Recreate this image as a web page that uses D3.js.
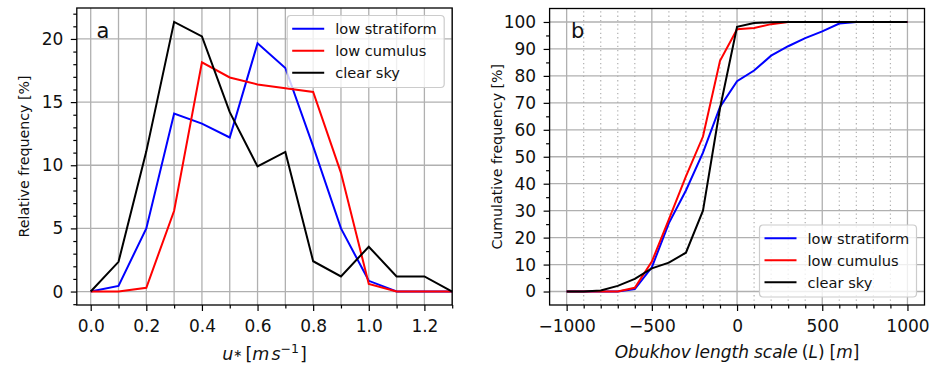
<!DOCTYPE html>
<html>
<head>
<meta charset="utf-8">
<script src="https://cdn.jsdelivr.net/npm/d3@7"></script>
<style>
  html, body { margin: 0; padding: 0; background: #fff; }
  svg { display: block; font-family: "DejaVu Sans", sans-serif; }
</style>
</head>
<body>
<svg id="fig" width="941" height="366"></svg>
<script>
// ---- Panel a: friction velocity distributions (% of cases per 0.1 m/s bin) ----
const ustarBins       = [0.0, 0.1, 0.2, 0.3, 0.4, 0.5, 0.6, 0.7, 0.8, 0.9, 1.0, 1.1, 1.2, 1.3];
const ustarStratiform = [0, 0.45, 5.0, 14.1, 13.3, 12.2, 19.65, 17.7, 11.5, 5.0, 0.85, 0, 0, 0];
const ustarCumulus    = [0, 0, 0.3, 6.4, 18.15, 16.95, 16.4, 16.1, 15.8, 9.4, 0.6, 0, 0, 0];
const ustarClear      = [0, 2.35, 11.1, 21.35, 20.2, 14.2, 9.9, 11.05, 2.4, 1.2, 3.55, 1.2, 1.2, 0];

// ---- Panel b: cumulative distributions of the Obukhov length (m) ----
const obukhovBins   = [-1000, -900, -800, -700, -600, -500, -400, -300, -200, -100, 0,
                       100, 200, 300, 400, 500, 600, 700, 800, 900, 1000];
const cdfStratiform = [0, 0, 0, 0, 0.9, 9.0, 25.4, 37.5, 51.5, 68.5, 78.0,
                       82.0, 87.5, 91.0, 94.0, 96.5, 99.4, 100, 100, 100, 100];
const cdfCumulus    = [0, 0, 0, 0, 1.4, 11.1, 26.8, 42.7, 57.5, 85.6, 97.3,
                       97.8, 99.2, 100, 100, 100, 100, 100, 100, 100, 100];
const cdfClear      = [0, 0, 0.4, 2.1, 4.7, 8.6, 10.7, 14.4, 30.0, 68.0, 98.2,
                       99.6, 99.9, 100, 100, 100, 100, 100, 100, 100, 100];

// ---- Shared series and tick definitions ----
const seriesNames  = ["low stratiform", "low cumulus", "clear sky"];
const seriesColors = ["#0000ff", "#ff0000", "#000000"];

const ustarTicks      = [0.0, 0.2, 0.4, 0.6, 0.8, 1.0, 1.2];
const ustarMinorTicks = [0.1, 0.3, 0.5, 0.7, 0.9, 1.1, 1.3];
const freqTicks       = [0, 5, 10, 15, 20];
const freqMinorTicks  = [-1, 1, 2, 3, 4, 6, 7, 8, 9, 11, 12, 13, 14, 16, 17, 18, 19, 21, 22];

const obukhovTicks      = [-1000, -500, 0, 500, 1000];
const obukhovMinorTicks = [-900, -800, -700, -600, -400, -300, -200, -100,
                           100, 200, 300, 400, 600, 700, 800, 900];
const cumTicks      = [0, 10, 20, 30, 40, 50, 60, 70, 80, 90, 100];
const cumMinorTicks = [5, 15, 25, 35, 45, 55, 65, 75, 85, 95];

const svg = d3.select("#fig");
const GRID = "#b0b0b0";
const TICK_FONT = 17;

function drawPanel(cfg) {
  const g = svg.append("g");
  const { x, y } = cfg;
  const [xl, xr] = x.range();
  const [yb, yt] = y.range();

  // grid lines
  const grid = g.append("g");
  grid.selectAll(".gx").data(cfg.xGrid).join("line")
    .attr("x1", d => x(d)).attr("x2", d => x(d)).attr("y1", yb).attr("y2", yt)
    .attr("stroke", GRID).attr("stroke-width", 1.3);
  if (cfg.xGridDotted) {
    grid.selectAll(".gxd").data(cfg.xGridDotted).join("line")
      .attr("x1", d => x(d)).attr("x2", d => x(d)).attr("y1", yb).attr("y2", yt)
      .attr("stroke", GRID).attr("stroke-width", 1.2).attr("stroke-dasharray", "1.3,3");
  }
  grid.selectAll(".gy").data(cfg.yGrid).join("line")
    .attr("x1", xl).attr("x2", xr).attr("y1", d => y(d)).attr("y2", d => y(d))
    .attr("stroke", GRID).attr("stroke-width", 1.3);

  // data lines
  const line = d3.line().x(d => x(d[0])).y(d => y(d[1]));
  cfg.series.forEach((vals, i) => {
    g.append("path")
      .datum(cfg.xs.map((v, j) => [v, vals[j]]))
      .attr("d", line)
      .attr("fill", "none")
      .attr("stroke", seriesColors[i])
      .attr("stroke-width", 2)
      .attr("stroke-linejoin", "miter");
  });

  // axes (outward ticks, major + minor)
  const xAxis = g.append("g").attr("transform", `translate(0,${yb})`)
    .call(d3.axisBottom(x).tickValues(cfg.xTicks).tickFormat(cfg.xFormat)
      .tickSize(6).tickPadding(8.5));
  const xMinor = g.append("g").attr("transform", `translate(0,${yb})`)
    .call(d3.axisBottom(x).tickValues(cfg.xMinor).tickFormat("").tickSize(3.5));
  const yAxis = g.append("g").attr("transform", `translate(${xl},0)`)
    .call(d3.axisLeft(y).tickValues(cfg.yTicks).tickFormat(d3.format("d"))
      .tickSize(6).tickPadding(7.5));
  const yMinor = g.append("g").attr("transform", `translate(${xl},0)`)
    .call(d3.axisLeft(y).tickValues(cfg.yMinor).tickFormat("").tickSize(3.5));
  [xAxis, xMinor, yAxis, yMinor].forEach(a => {
    a.select(".domain").remove();
    a.selectAll(".tick line").attr("stroke", "#000").attr("stroke-width", 1.2);
    a.selectAll(".tick text")
      .attr("font-family", "DejaVu Sans, sans-serif")
      .attr("font-size", TICK_FONT).attr("fill", "#111");
  });

  // frame
  g.append("rect")
    .attr("x", xl).attr("y", yt).attr("width", xr - xl).attr("height", yb - yt)
    .attr("fill", "none").attr("stroke", "#000").attr("stroke-width", 1.3);

  // panel letter
  g.append("text").attr("x", cfg.letterX).attr("y", 38)
    .attr("font-size", 21).attr("fill", "#111").text(cfg.letter);

  // legend
  const lw = 157, lh = 72;
  const lx = cfg.legendRight ? xr - 8 - lw : xl + 8;
  const ly = cfg.legendTop ? yt + 7.5 : yb - 8 - lh;
  const leg = g.append("g").attr("transform", `translate(${lx},${ly})`);
  leg.append("rect").attr("width", lw).attr("height", lh).attr("rx", 3.5)
    .attr("fill", "#fff").attr("fill-opacity", 0.8)
    .attr("stroke", "#cccccc").attr("stroke-width", 1.2);
  seriesNames.forEach((name, i) => {
    const cy = 13.3 + i * 22;
    leg.append("line").attr("x1", 5).attr("x2", 37).attr("y1", cy).attr("y2", cy)
      .attr("stroke", seriesColors[i]).attr("stroke-width", 2);
    leg.append("text").attr("x", 48).attr("y", cy).attr("dy", "0.36em")
      .attr("font-size", 14.6).attr("fill", "#111").text(name);
  });

  // y label
  g.append("text")
    .attr("transform", `translate(${cfg.yLabelX},${(yb + yt) / 2}) rotate(-90)`)
    .attr("text-anchor", "middle").attr("font-size", 14.2).attr("fill", "#111")
    .text(cfg.yLabel);

  return g;
}

// Panel a
const xA = d3.scaleLinear().domain([-0.05, 1.3]).range([76.8, 452.2]);
const yA = d3.scaleLinear().domain([-1.065, 22.45]).range([305, 8]);
const gA = drawPanel({
  x: xA, y: yA, xs: ustarBins,
  series: [ustarStratiform, ustarCumulus, ustarClear],
  xGrid: ustarBins, yGrid: freqTicks,
  xTicks: ustarTicks, xMinor: ustarMinorTicks, xFormat: d3.format(".1f"),
  yTicks: freqTicks, yMinor: freqMinorTicks,
  letter: "a", letterX: 96.5,
  legendRight: true, legendTop: true,
  yLabel: "Relative frequency [%]", yLabelX: 28.5
});

// x label of panel a: u_* [m s^-1]
const uLab = gA.append("text").attr("x", xA(0.625)).attr("y", 360)
  .attr("text-anchor", "middle").attr("font-size", 17.5).attr("fill", "#111");
uLab.append("tspan").attr("font-style", "italic").text("u");
uLab.append("tspan").attr("font-size", 11).attr("dy", -3).text("∗");
uLab.append("tspan").attr("dy", 3).attr("dx", 3).text("[");
uLab.append("tspan").attr("font-style", "italic").text("m");
uLab.append("tspan").attr("font-style", "italic").attr("dx", 2).text("s");
uLab.append("tspan").attr("font-size", 12.5).attr("dy", -7).text("−1");
uLab.append("tspan").attr("dy", 7).attr("dx", 1).text("]");

// Panel b
const xB = d3.scaleLinear().domain([-1100, 1100]).range([549.6, 924.5]);
const yB = d3.scaleLinear().domain([-5, 105]).range([305, 8.5]);
const gB = drawPanel({
  x: xB, y: yB, xs: obukhovBins,
  series: [cdfStratiform, cdfCumulus, cdfClear],
  xGrid: obukhovTicks, xGridDotted: obukhovMinorTicks, yGrid: cumTicks,
  xTicks: obukhovTicks, xMinor: obukhovMinorTicks, xFormat: d3.format("d"),
  yTicks: cumTicks, yMinor: cumMinorTicks,
  letter: "b", letterX: 571,
  legendRight: true, legendTop: false,
  yLabel: "Cumulative frequency [%]", yLabelX: 502
});

// x label of panel b, math-italic words with tight spacing
const obLab = gB.append("text").attr("x", xB(0)).attr("y", 357.5)
  .attr("text-anchor", "middle").attr("font-size", 17).attr("fill", "#111");
obLab.append("tspan").attr("font-style", "italic").text("Obukhov");
obLab.append("tspan").attr("font-style", "italic").attr("dx", 4).text("length");
obLab.append("tspan").attr("font-style", "italic").attr("dx", 5).text("scale");
obLab.append("tspan").attr("dx", 4).text("(");
obLab.append("tspan").attr("font-style", "italic").text("L");
obLab.append("tspan").text(")");
obLab.append("tspan").attr("dx", 5).text("[");
obLab.append("tspan").attr("font-style", "italic").text("m");
obLab.append("tspan").text("]");
</script>
</body>
</html>
